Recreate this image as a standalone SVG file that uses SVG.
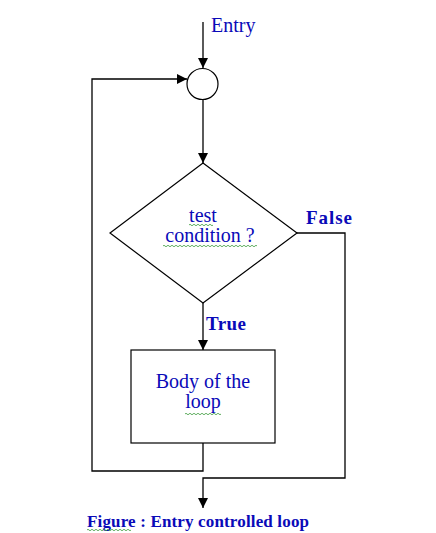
<svg xmlns="http://www.w3.org/2000/svg" width="436" height="533" viewBox="0 0 436 533">
<defs>
<marker id="arr" viewBox="0 0 10 10" refX="10" refY="5" markerWidth="10" markerHeight="10" markerUnits="userSpaceOnUse" orient="auto">
<path d="M0,0 L10,5 L0,10 Z" fill="#000"/>
</marker>
</defs>
<style>
.ln{fill:none;stroke:#000;stroke-width:1.3}
.sh{fill:#fff;stroke:#000;stroke-width:1.2}
.t{font-family:"Liberation Serif",serif;fill:#0a0ab8;font-size:20px}
.b{font-family:"Liberation Serif",serif;fill:#0a0ab8;font-weight:bold}
.sq{fill:none;stroke:#3a9a3a;stroke-width:0.8}
</style>
<rect width="436" height="533" fill="#fff"/>
<g id="connectors">
<path class="ln" d="M203,22 L203,68" marker-end="url(#arr)"/>
<path class="ln" d="M203,100 L203,163" marker-end="url(#arr)"/>
<path class="ln" d="M203,303 L203,350" marker-end="url(#arr)"/>
<path class="ln" d="M203,443 L203,471 L92,471 L92,79 L187,79" marker-end="url(#arr)"/>
<path class="ln" d="M297,233 L345,233 L345,478 L203,478 L203,508" marker-end="url(#arr)"/>
</g>
<g id="entry-label"><text class="t" x="211" y="32">Entry</text></g>
<g id="junction"><circle class="sh" cx="202.5" cy="84" r="15.5"/></g>
<g id="decision">
<polygon class="sh" points="203,163 297,233 203,303 110,233"/>
<text class="t" x="203" y="222" text-anchor="middle">test</text>
<text class="t" x="210" y="242" text-anchor="middle">condition ?</text>
<path class="sq" d="M189,225 q1,-1.5 2,0 t2,0 t2,0 t2,0 t2,0 t2,0 t2,0 t2,0 t2,0 t2,0 t2,0 t2,0"/>
<path class="sq" d="M163,246 q1,-1.5 2,0 t2,0 t2,0 t2,0 t2,0 t2,0 t2,0 t2,0 t2,0 t2,0 t2,0 t2,0 t2,0 t2,0 t2,0 t2,0 t2,0 t2,0 t2,0 t2,0 t2,0 t2,0 t2,0 t2,0 t2,0 t2,0 t2,0 t2,0 t2,0 t2,0 t2,0 t2,0 t2,0 t2,0 t2,0 t2,0 t2,0 t2,0 t2,0 t2,0 t2,0 t2,0 t2,0 t2,0 t2,0 t2,0 t2,0"/>
</g>
<g id="false-label"><text class="b" x="306" y="224" font-size="19" textLength="46">False</text></g>
<g id="true-label"><text class="b" x="206" y="330" font-size="19" textLength="40">True</text></g>
<g id="body">
<rect class="sh" x="131" y="350" width="144" height="93"/>
<text class="t" x="203" y="388" text-anchor="middle">Body of the</text>
<text class="t" x="203" y="408" text-anchor="middle">loop</text>
<path class="sq" d="M185,414 q1,-1.5 2,0 t2,0 t2,0 t2,0 t2,0 t2,0 t2,0 t2,0 t2,0 t2,0 t2,0 t2,0 t2,0 t2,0 t2,0 t2,0 t2,0 t2,0"/>
</g>
<g id="caption">
<text class="b" x="87" y="527" font-size="17" textLength="222">Figure : Entry controlled loop</text>
<path class="sq" d="M87,530 q1,-1.5 2,0 t2,0 t2,0 t2,0 t2,0 t2,0 t2,0 t2,0 t2,0 t2,0 t2,0 t2,0 t2,0 t2,0 t2,0 t2,0 t2,0 t2,0 t2,0 t2,0 t2,0 t2,0"/>
</g>
</svg>
